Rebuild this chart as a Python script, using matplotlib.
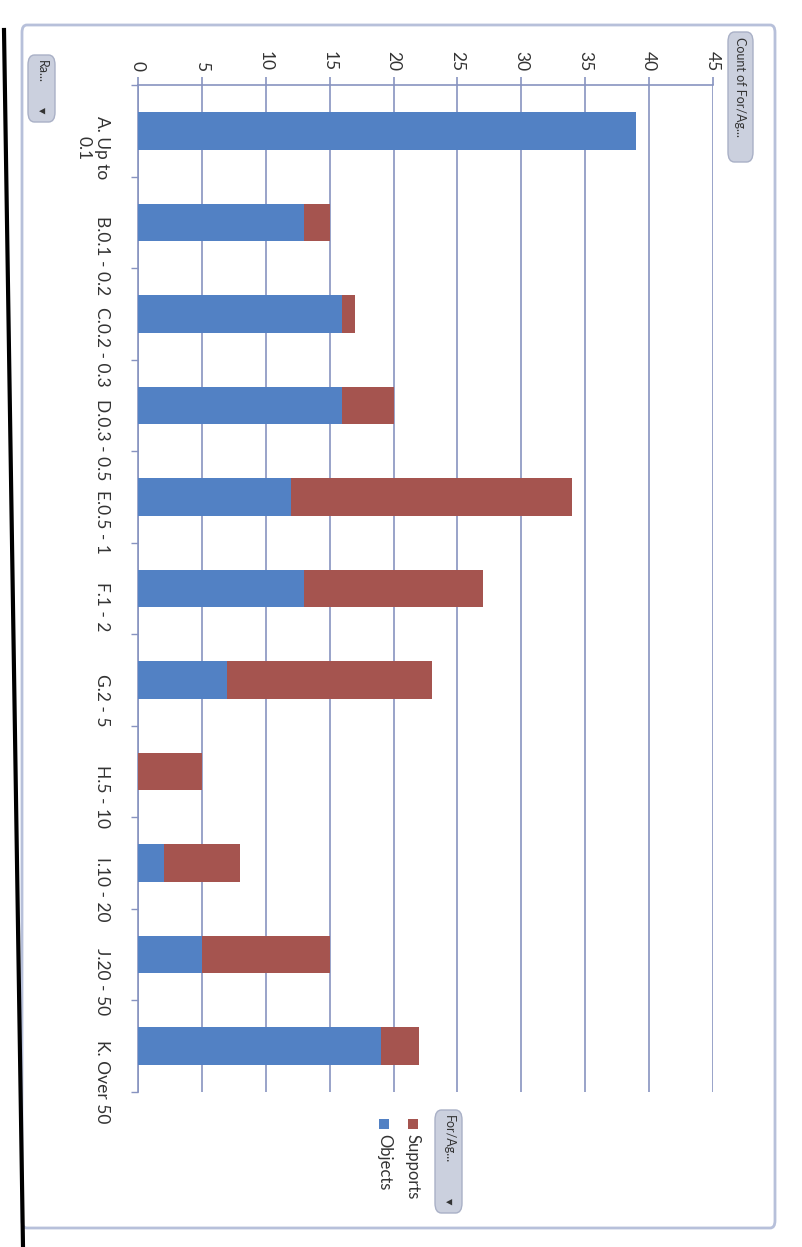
import matplotlib
matplotlib.use("Agg")
import matplotlib.pyplot as plt
from matplotlib.patches import FancyBboxPatch, Rectangle
from matplotlib.lines import Line2D
import numpy as np

plt.rcParams['font.family'] = ['Lato', 'DejaVu Sans']

categories = ["A. Up to\n0.1", "B.0.1 - 0.2", "C.0.2 - 0.3", "D.0.3 - 0.5", "E.0.5 - 1",
              "F.1 - 2", "G.2 - 5", "H.5 - 10", "I.10 - 20", "J.20 - 50", "K. Over 50"]
objects = [39, 13, 16, 16, 12, 13, 7, 0, 2, 5, 19]
supports = [0, 2, 1, 4, 22, 14, 16, 5, 6, 10, 3]
value_ticks = [0, 5, 10, 15, 20, 25, 30, 35, 40, 45]
series_names = ["Supports", "Objects"]

W, H = 803, 1247
fig = plt.figure(figsize=(W / 100, H / 100), dpi=100)
fig.patch.set_facecolor('white')


def fx(x):
    return x / W


def fy(y):
    return 1 - y / H


blue = '#5281C4'
red = '#A5544F'
gridc = '#8793C0'
textc = '#333333'

# axes area (pixels)
left, right, top, bottom = 138, 713, 85, 1092
ax = fig.add_axes([fx(left), fy(bottom), fx(right) - fx(left), fy(top) - fy(bottom)])
ax.set_facecolor('none')

y = np.arange(len(categories))
ax.barh(y, objects, height=0.41, color=blue, zorder=3)
ax.barh(y, supports, left=objects, height=0.41, color=red, zorder=3)

ax.set_xlim(0, 45)
ax.set_ylim(len(categories) - 0.5, -0.5)

ax.xaxis.tick_top()
ax.set_xticks(value_ticks)
ax.set_xticklabels([str(v) for v in value_ticks], rotation=-90, fontsize=12.5, color=textc)
ax.tick_params(axis='x', length=6, width=1.2, color=gridc, pad=4)

ax.set_yticks(y)
ax.set_yticklabels(categories, rotation=-90, fontsize=12.5, color=textc,
                   multialignment='center')
ax.tick_params(axis='y', length=0, pad=20)
ax.set_yticks(np.arange(-0.5, len(categories), 1.0), minor=True)
ax.tick_params(axis='y', which='minor', length=5, width=1.0, color=gridc)

ax.grid(axis='x', color=gridc, lw=1.2, zorder=1)
ax.grid(axis='y', visible=False)
for s in ['right', 'bottom']:
    ax.spines[s].set_visible(False)
for s in ['top', 'left']:
    ax.spines[s].set_color(gridc)
    ax.spines[s].set_linewidth(1.2)

# outer chart frame
frame = FancyBboxPatch((fx(22), fy(1228)), fx(775) - fx(22), fy(25) - fy(1228),
                       boxstyle="round,pad=0,rounding_size=0.006",
                       transform=fig.transFigure, facecolor='none',
                       edgecolor='#B7C0DA', lw=2.0, zorder=0)
fig.patches.append(frame)

# scan edge line
fig.lines.append(Line2D([fx(4), fx(23)], [fy(30), fy(1247)], transform=fig.transFigure,
                        color='black', lw=3))


def button(x0, x1, y0, y1, label, arrow=True, fs=9):
    b = FancyBboxPatch((fx(x0), fy(y1)), fx(x1) - fx(x0), fy(y0) - fy(y1),
                       boxstyle="round,pad=0,rounding_size=0.008",
                       transform=fig.transFigure, facecolor='#CBD0DE',
                       edgecolor='#A9B0C6', lw=1.0)
    fig.patches.append(b)
    xc = (x0 + x1) / 2
    fig.text(fx(xc), fy(y0 + 5), label, rotation=-90, ha='center', va='top',
             fontsize=fs, color='#333333')
    if arrow:
        fig.text(fx(xc), fy(y1 - 12), "▼", rotation=-90, ha='center', va='center',
                 fontsize=6, color='#333333')


button(728, 753, 32, 162, "Count of For/Ag...", arrow=False)
button(28, 55, 55, 122, "Ra...")
button(435, 462, 1110, 1213, "For/Ag...")

# legend
legend_x = [413, 384]
legend_colors = [red, blue]
for name, lx, c in zip(series_names, legend_x, legend_colors):
    fig.patches.append(Rectangle((fx(lx - 5), fy(1129)), fx(10), 10 / H,
                                 transform=fig.transFigure, facecolor=c, edgecolor='none'))
    fig.text(fx(lx), fy(1134), name, rotation=-90, ha='center', va='top',
             fontsize=12, color=textc)

fig.savefig("out.png", dpi=100)
